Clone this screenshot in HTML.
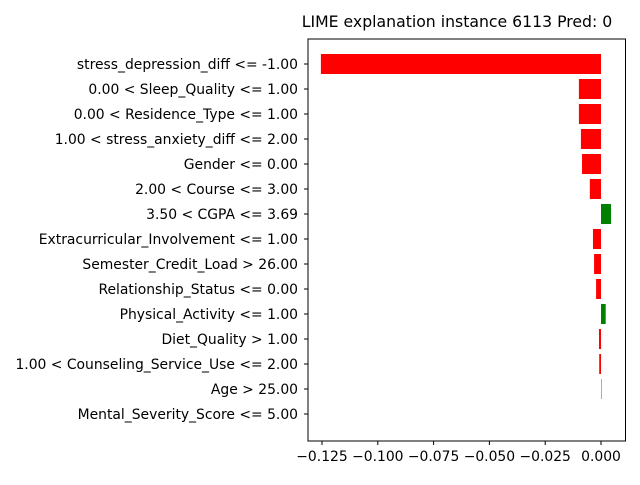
<!DOCTYPE html>
<html><head><meta charset="utf-8"><style>
body{margin:0;background:#fff;font-family:"Liberation Sans","DejaVu Sans",sans-serif;}
</style></head><body>
<svg width="640" height="480" xmlns="http://www.w3.org/2000/svg" font-family="DejaVu Sans, Liberation Sans, sans-serif">
<text x="457" y="27" font-size="15.7" text-anchor="middle">LIME explanation instance 6113 Pred: 0</text>
<g id="bars"></g>
<g id="ylabels"></g>
<g id="xticks"></g>
<rect x="308" y="39" width="317.5" height="402" fill="none" stroke="#000" stroke-width="1"/>
</svg>
<script>
const categories=["stress_depression_diff <= -1.00","0.00 < Sleep_Quality <= 1.00","0.00 < Residence_Type <= 1.00","1.00 < stress_anxiety_diff <= 2.00","Gender <= 0.00","2.00 < Course <= 3.00","3.50 < CGPA <= 3.69","Extracurricular_Involvement <= 1.00","Semester_Credit_Load > 26.00","Relationship_Status <= 0.00","Physical_Activity <= 1.00","Diet_Quality > 1.00","1.00 < Counseling_Service_Use <= 2.00","Age > 25.00","Mental_Severity_Score <= 5.00"];
const values=[-0.1255,-0.0099,-0.0099,-0.009,-0.0085,-0.005,0.0045,-0.0036,-0.0031,-0.0022,0.0021,-0.0009,-0.0008,0.0002,0];
const tickValues=[-0.125,-0.1,-0.075,-0.05,-0.025,0];
const tickLabels=["−0.125","−0.100","−0.075","−0.050","−0.025","0.000"];
const NS="http://www.w3.org/2000/svg";
const x=v=>601+v*2232;
const y=i=>64+i*25;
const gb=document.getElementById('bars'),gl=document.getElementById('ylabels'),gt=document.getElementById('xticks');
categories.forEach((c,i)=>{
  const v=values[i];
  const r=document.createElementNS(NS,'rect');
  r.setAttribute('x',Math.min(x(0),x(v)));r.setAttribute('y',y(i)-10);
  r.setAttribute('width',Math.abs(x(v)-x(0)));r.setAttribute('height',20);
  r.setAttribute('fill',v>=0?'#008000':'#ff0000');
  
  
  gb.appendChild(r);
  const tk=document.createElementNS(NS,'line');
  tk.setAttribute('x1',304);tk.setAttribute('x2',308);tk.setAttribute('y1',y(i));tk.setAttribute('y2',y(i));tk.setAttribute('stroke','#000');
  gl.appendChild(tk);
  const t=document.createElementNS(NS,'text');
  t.setAttribute('x',298);t.setAttribute('y',y(i)+5);t.setAttribute('font-size','13.9');t.setAttribute('text-anchor','end');
  t.textContent=c;
  
  
  gl.appendChild(t);
});
tickValues.forEach((v,i)=>{
  const tk=document.createElementNS(NS,'line');
  tk.setAttribute('x1',x(v));tk.setAttribute('x2',x(v));tk.setAttribute('y1',441);tk.setAttribute('y2',445);tk.setAttribute('stroke','#000');
  gt.appendChild(tk);
  const t=document.createElementNS(NS,'text');
  t.setAttribute('x',x(v));t.setAttribute('y',461);t.setAttribute('font-size','13.9');t.setAttribute('text-anchor','middle');
  t.textContent=tickLabels[i];
  
  
  gt.appendChild(t);
});
</script>
</body></html>
